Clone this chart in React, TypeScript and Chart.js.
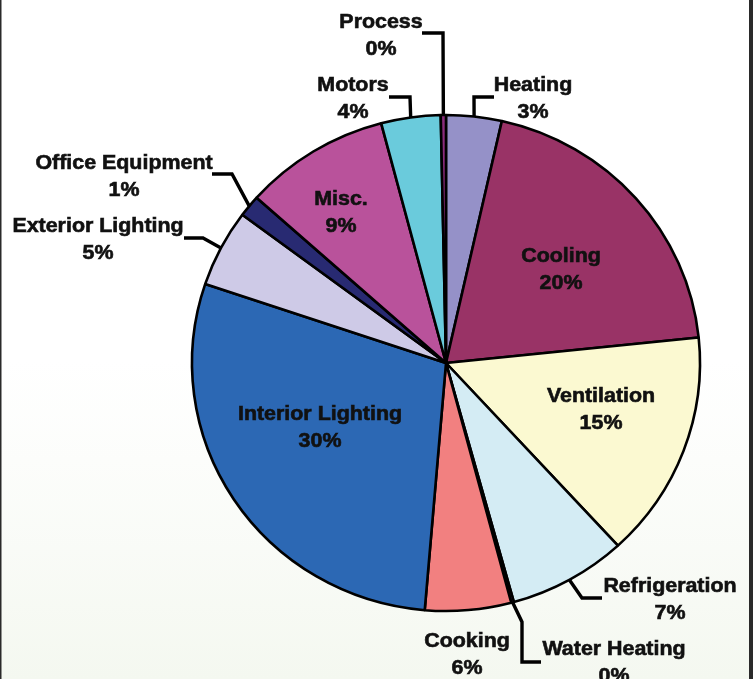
import React, { useEffect, useRef } from "react";
import { Chart, registerables } from "chart.js";

Chart.register(...registerables);

const CATEGORIES = [
  "Heating",
  "Cooling",
  "Ventilation",
  "Refrigeration",
  "Water Heating",
  "Cooking",
  "Interior Lighting",
  "Exterior Lighting",
  "Office Equipment",
  "Misc.",
  "Motors",
  "Process",
];
const SHARES = [3.53, 19.83, 14.81, 7.53, 0.17, 5.47, 28.83, 5.03, 1.42, 9.28, 3.78, 0.33];
const PERCENT_LABELS = ["3%", "20%", "15%", "7%", "0%", "6%", "30%", "5%", "1%", "9%", "4%", "0%"];
const COLORS = [
  "#9591c8",
  "#993366",
  "#fbf9d1",
  "#d4ecf4",
  "#7b2c86",
  "#f28080",
  "#2c68b4",
  "#cecae7",
  "#282a72",
  "#b9529b",
  "#6acbdc",
  "#8b2c7c",
];

// label layout: text centre x, first baseline y, leader path (from stub end toward arc)
type Layout = { x: number; y: number; leader?: number[][] };
const LAYOUT: Layout[] = [
  { x: 533, y: 91, leader: [[494, 97], [474, 97]] },
  { x: 561, y: 262 },
  { x: 601, y: 402 },
  { x: 670, y: 592, leader: [[602, 598], [582, 598]] },
  { x: 614, y: 655, leader: [[541, 662], [522, 662], [522, 622]] },
  { x: 467, y: 647 },
  { x: 320, y: 420 },
  { x: 98, y: 232, leader: [[184, 238], [203, 238]] },
  { x: 124, y: 169, leader: [[212, 174], [232, 174]] },
  { x: 341, y: 205 },
  { x: 353, y: 91, leader: [[389, 97], [410, 97]] },
  { x: 381, y: 28, leader: [[422, 33], [443, 33]] },
];

const SY = 249 / 255;

const bgPlugin = {
  id: "bg",
  beforeDraw(chart: any) {
    const { ctx, width, height } = chart;
    ctx.save();
    ctx.fillStyle = "#ffffff";
    ctx.fillRect(0, 0, width, height);
    const g = ctx.createLinearGradient(0, 360, 0, height);
    g.addColorStop(0, "rgba(246,249,243,0)");
    g.addColorStop(1, "rgba(244,248,240,1)");
    ctx.fillStyle = g;
    ctx.fillRect(0, 360, width, height - 360);
    ctx.fillStyle = "#2a2a2a";
    ctx.fillRect(0, 0, 1.5, height);
    ctx.fillRect(749, 0, 4, height);
    ctx.restore();
  },
};

const ellipsePlugin = {
  id: "ellipse",
  beforeDatasetsDraw(chart: any) {
    const arc = chart.getDatasetMeta(0).data[0];
    const ctx = chart.ctx;
    ctx.save();
    ctx.translate(arc.x, arc.y);
    ctx.scale(1, SY);
    ctx.translate(-arc.x, -arc.y);
  },
  afterDatasetsDraw(chart: any) {
    chart.ctx.restore();
  },
};

const labelPlugin = {
  id: "labels",
  afterDraw(chart: any) {
    const ctx = chart.ctx;
    const meta = chart.getDatasetMeta(0);
    ctx.save();
    ctx.strokeStyle = "#000";
    ctx.lineWidth = 3.4;
    ctx.lineJoin = "miter";
    ctx.lineCap = "butt";
    meta.data.forEach((arc: any, i: number) => {
      const lay = LAYOUT[i];
      if (lay.leader) {
        const mid = (arc.startAngle + arc.endAngle) / 2;
        const tx = arc.x + Math.cos(mid) * arc.outerRadius;
        const ty = arc.y + Math.sin(mid) * arc.outerRadius * SY;
        ctx.beginPath();
        ctx.moveTo(lay.leader[0][0], lay.leader[0][1]);
        for (let k = 1; k < lay.leader.length; k++) ctx.lineTo(lay.leader[k][0], lay.leader[k][1]);
        ctx.lineTo(tx, ty);
        ctx.stroke();
      }
    });
    ctx.fillStyle = "#111";
    ctx.strokeStyle = "#111";
    ctx.lineWidth = 0.6;
    ctx.font = "bold 20px 'Liberation Sans', Arial, sans-serif";
    ctx.textAlign = "center";
    ctx.textBaseline = "alphabetic";
    CATEGORIES.forEach((name, i) => {
      const lay = LAYOUT[i];
      const lines = [name, PERCENT_LABELS[i]];
      lines.forEach((t, k) => {
        ctx.save();
        ctx.translate(lay.x, lay.y + k * 26.5);
        ctx.scale(1.07, 1);
        ctx.fillText(t, 0, 0);
        ctx.strokeText(t, 0, 0);
        ctx.restore();
      });
    });
    ctx.restore();
  },
};

export default function App() {
  const ref = useRef<HTMLCanvasElement | null>(null);
  useEffect(() => {
    if (!ref.current) return;
    const chart = new Chart(ref.current, {
      type: "pie",
      data: {
        labels: CATEGORIES,
        datasets: [
          {
            data: SHARES,
            backgroundColor: COLORS,
            borderColor: "#000",
            borderWidth: 2.6,
            radius: 254,
          } as any,
        ],
      },
      options: {
        animation: false,
        responsive: false,
        events: [],
        layout: { padding: { left: 192, right: 53, top: 109, bottom: 62 } },
        plugins: { legend: { display: false }, tooltip: { enabled: false } },
      },
      plugins: [bgPlugin, ellipsePlugin, labelPlugin],
    });
    return () => chart.destroy();
  }, []);
  return (
    <div style={{ position: "absolute", left: 0, top: 0, width: 753, height: 679 }}>
      <canvas ref={ref} width={753} height={679} style={{ display: "block" }} />
    </div>
  );
}
